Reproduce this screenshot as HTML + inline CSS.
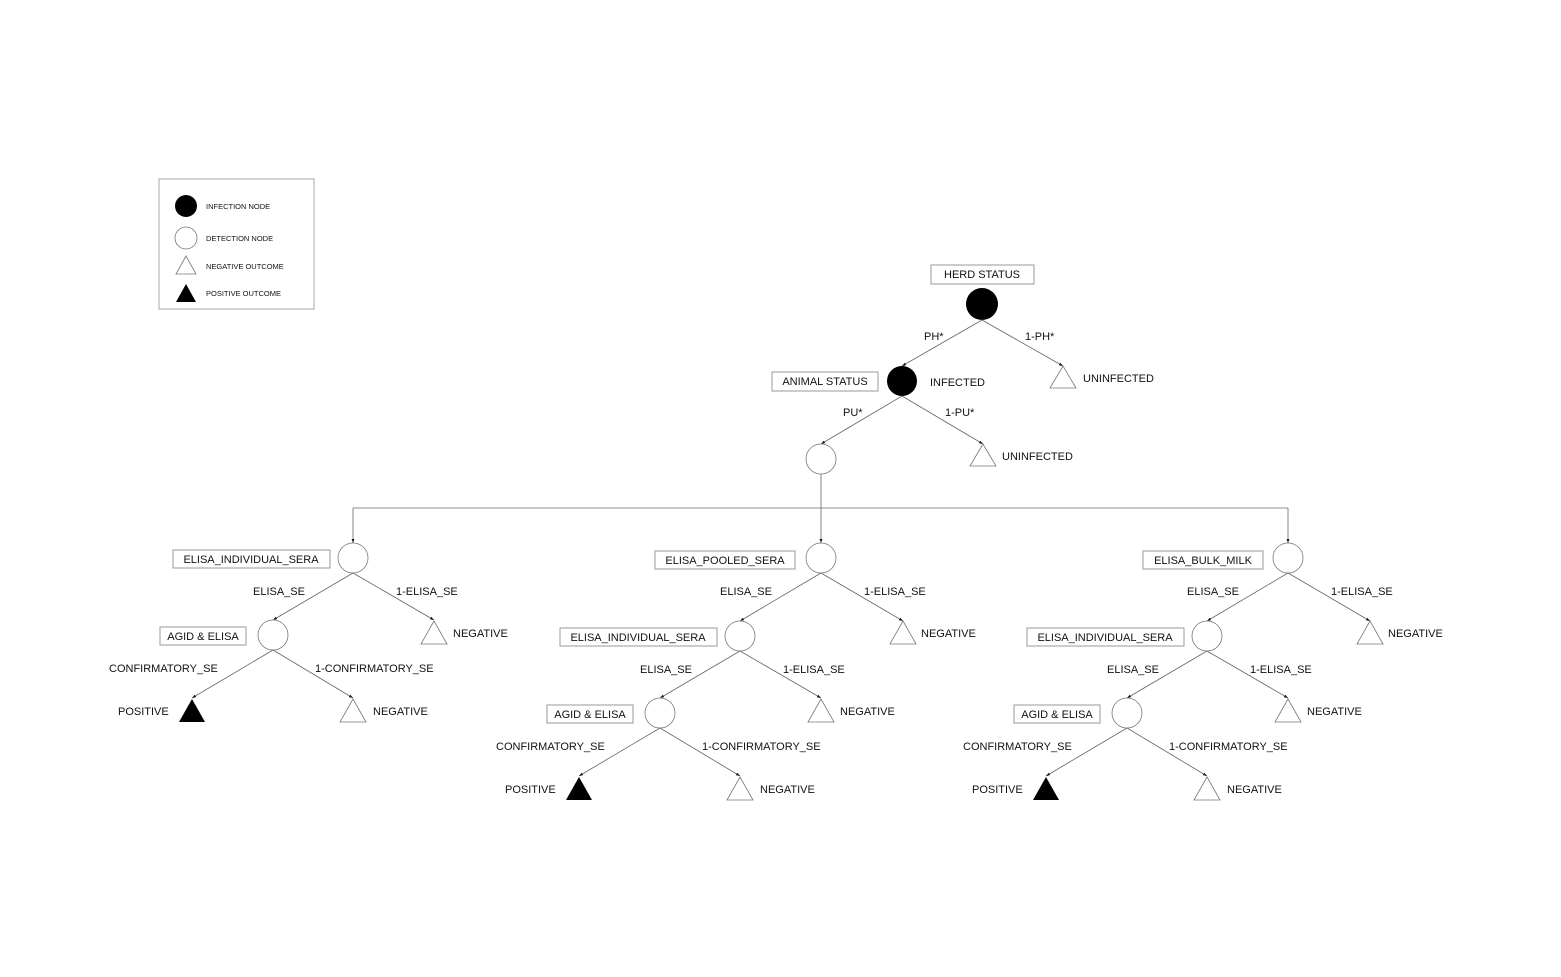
<!DOCTYPE html>
<html><head><meta charset="utf-8"><style>
html,body{margin:0;padding:0;background:#fff;}
svg{display:block;}
text{font-family:"Liberation Sans",sans-serif;font-size:11px;fill:#111;}
.e{stroke:#666;stroke-width:0.8;fill:none;}
.b{fill:#fff;stroke:#999;stroke-width:1;}
.n{fill:#fff;stroke:#777;stroke-width:0.8;}
.t{fill:#fff;stroke:#777;stroke-width:0.8;}
.lg{font-size:7.5px;}
</style></head><body>
<svg width="1561" height="977" viewBox="0 0 1561 977" xmlns="http://www.w3.org/2000/svg">
<defs><marker id="a" viewBox="0 0 10 10" refX="10" refY="5" markerWidth="7" markerHeight="5" orient="auto"><path d="M0,1.5L10,5L0,8.5z" fill="#111"/></marker></defs>

<!-- legend -->
<rect x="159" y="179" width="155" height="130" fill="#fff" stroke="#aaa"/>
<circle cx="186" cy="206" r="11" fill="#000"/>
<text class="lg" x="206" y="209">INFECTION NODE</text>
<circle cx="186" cy="238" r="11" class="n"/>
<text class="lg" x="206" y="241">DETECTION NODE</text>
<polygon points="186,256 176,274 196,274" class="t"/>
<text class="lg" x="206" y="269">NEGATIVE OUTCOME</text>
<polygon points="186,284 176,302 196,302" fill="#000"/>
<text class="lg" x="206" y="296">POSITIVE OUTCOME</text>

<!-- top -->
<rect x="931" y="265" width="103" height="19" class="b"/>
<text x="982" y="278" text-anchor="middle">HERD STATUS</text>
<circle cx="982" cy="304" r="16" fill="#000"/>
<line class="e" x1="982" y1="320" x2="902" y2="366" marker-end="url(#a)"/>
<line class="e" x1="982" y1="320" x2="1063" y2="366" marker-end="url(#a)"/>
<text x="924" y="340">PH*</text>
<text x="1025" y="340">1-PH*</text>
<polygon points="1063,366 1050,388 1076,388" class="t"/>
<text x="1083" y="382">UNINFECTED</text>
<rect x="772" y="372" width="106" height="19" class="b"/>
<text x="825" y="385" text-anchor="middle">ANIMAL STATUS</text>
<circle cx="902" cy="381" r="15" fill="#000"/>
<text x="930" y="386">INFECTED</text>
<line class="e" x1="902" y1="396" x2="821" y2="444" marker-end="url(#a)"/>
<line class="e" x1="902" y1="396" x2="983" y2="444" marker-end="url(#a)"/>
<text x="843" y="416">PU*</text>
<text x="945" y="416">1-PU*</text>
<polygon points="983,444 970,466 996,466" class="t"/>
<text x="1002" y="460">UNINFECTED</text>
<circle cx="821" cy="459" r="15" class="n"/>
<line class="e" x1="821" y1="474" x2="821" y2="508"/>
<line class="e" x1="353" y1="508" x2="1288" y2="508"/>
<line class="e" x1="353" y1="508" x2="353" y2="543" marker-end="url(#a)"/>
<line class="e" x1="821" y1="508" x2="821" y2="543" marker-end="url(#a)"/>
<line class="e" x1="1288" y1="508" x2="1288" y2="543" marker-end="url(#a)"/>

<!-- column 1 (lower pattern shifted -387,-78) -->
<g transform="translate(-387,-78)">
<rect x="560" y="628" width="157" height="18" class="b"/>
<text x="638" y="641" text-anchor="middle">ELISA_INDIVIDUAL_SERA</text>
<circle cx="740" cy="636" r="15" class="n"/>
<line class="e" x1="740" y1="651" x2="660" y2="698" marker-end="url(#a)"/>
<line class="e" x1="740" y1="651" x2="821" y2="698" marker-end="url(#a)"/>
<text x="640" y="673">ELISA_SE</text>
<text x="783" y="673">1-ELISA_SE</text>
<polygon points="821,699 808,722 834,722" class="t"/>
<text x="840" y="715">NEGATIVE</text>
<rect x="547" y="705" width="86" height="18" class="b"/>
<text x="590" y="718" text-anchor="middle">AGID &amp; ELISA</text>
<circle cx="660" cy="713" r="15" class="n"/>
<line class="e" x1="660" y1="728" x2="579" y2="776" marker-end="url(#a)"/>
<line class="e" x1="660" y1="728" x2="740" y2="776" marker-end="url(#a)"/>
<text x="496" y="750">CONFIRMATORY_SE</text>
<text x="702" y="750">1-CONFIRMATORY_SE</text>
<polygon points="579,777 566,800 592,800" fill="#000"/>
<text x="505" y="793">POSITIVE</text>
<polygon points="740,777 727,800 753,800" class="t"/>
<text x="760" y="793">NEGATIVE</text>
</g>

<!-- column 2 -->
<g>
<rect x="655" y="551" width="140" height="18" class="b"/>
<text x="725" y="564" text-anchor="middle">ELISA_POOLED_SERA</text>
<circle cx="821" cy="558" r="15" class="n"/>
<line class="e" x1="821" y1="573" x2="740" y2="621" marker-end="url(#a)"/>
<line class="e" x1="821" y1="573" x2="903" y2="621" marker-end="url(#a)"/>
<text x="720" y="595">ELISA_SE</text>
<text x="864" y="595">1-ELISA_SE</text>
<polygon points="903,621 890,644 916,644" class="t"/>
<text x="921" y="637">NEGATIVE</text>
<rect x="560" y="628" width="157" height="18" class="b"/>
<text x="638" y="641" text-anchor="middle">ELISA_INDIVIDUAL_SERA</text>
<circle cx="740" cy="636" r="15" class="n"/>
<line class="e" x1="740" y1="651" x2="660" y2="698" marker-end="url(#a)"/>
<line class="e" x1="740" y1="651" x2="821" y2="698" marker-end="url(#a)"/>
<text x="640" y="673">ELISA_SE</text>
<text x="783" y="673">1-ELISA_SE</text>
<polygon points="821,699 808,722 834,722" class="t"/>
<text x="840" y="715">NEGATIVE</text>
<rect x="547" y="705" width="86" height="18" class="b"/>
<text x="590" y="718" text-anchor="middle">AGID &amp; ELISA</text>
<circle cx="660" cy="713" r="15" class="n"/>
<line class="e" x1="660" y1="728" x2="579" y2="776" marker-end="url(#a)"/>
<line class="e" x1="660" y1="728" x2="740" y2="776" marker-end="url(#a)"/>
<text x="496" y="750">CONFIRMATORY_SE</text>
<text x="702" y="750">1-CONFIRMATORY_SE</text>
<polygon points="579,777 566,800 592,800" fill="#000"/>
<text x="505" y="793">POSITIVE</text>
<polygon points="740,777 727,800 753,800" class="t"/>
<text x="760" y="793">NEGATIVE</text>
</g>

<!-- column 3 -->
<g transform="translate(467,0)">
<rect x="676" y="551" width="120" height="18" class="b"/>
<text x="736" y="564" text-anchor="middle">ELISA_BULK_MILK</text>
<circle cx="821" cy="558" r="15" class="n"/>
<line class="e" x1="821" y1="573" x2="740" y2="621" marker-end="url(#a)"/>
<line class="e" x1="821" y1="573" x2="903" y2="621" marker-end="url(#a)"/>
<text x="720" y="595">ELISA_SE</text>
<text x="864" y="595">1-ELISA_SE</text>
<polygon points="903,621 890,644 916,644" class="t"/>
<text x="921" y="637">NEGATIVE</text>
<rect x="560" y="628" width="157" height="18" class="b"/>
<text x="638" y="641" text-anchor="middle">ELISA_INDIVIDUAL_SERA</text>
<circle cx="740" cy="636" r="15" class="n"/>
<line class="e" x1="740" y1="651" x2="660" y2="698" marker-end="url(#a)"/>
<line class="e" x1="740" y1="651" x2="821" y2="698" marker-end="url(#a)"/>
<text x="640" y="673">ELISA_SE</text>
<text x="783" y="673">1-ELISA_SE</text>
<polygon points="821,699 808,722 834,722" class="t"/>
<text x="840" y="715">NEGATIVE</text>
<rect x="547" y="705" width="86" height="18" class="b"/>
<text x="590" y="718" text-anchor="middle">AGID &amp; ELISA</text>
<circle cx="660" cy="713" r="15" class="n"/>
<line class="e" x1="660" y1="728" x2="579" y2="776" marker-end="url(#a)"/>
<line class="e" x1="660" y1="728" x2="740" y2="776" marker-end="url(#a)"/>
<text x="496" y="750">CONFIRMATORY_SE</text>
<text x="702" y="750">1-CONFIRMATORY_SE</text>
<polygon points="579,777 566,800 592,800" fill="#000"/>
<text x="505" y="793">POSITIVE</text>
<polygon points="740,777 727,800 753,800" class="t"/>
<text x="760" y="793">NEGATIVE</text>
</g>
</svg>
</body></html>
